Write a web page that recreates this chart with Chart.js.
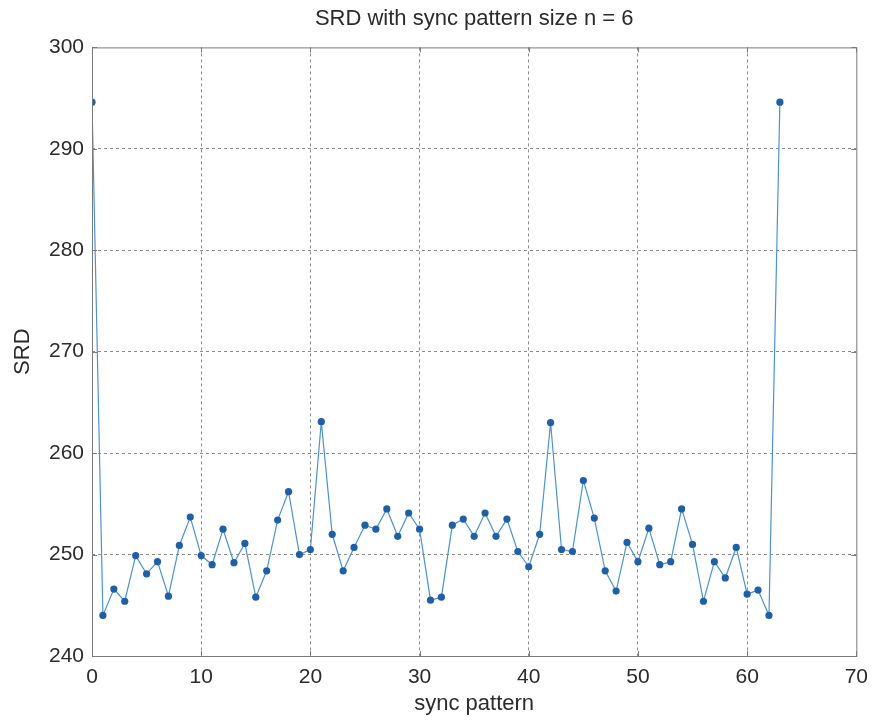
<!DOCTYPE html>
<html>
<head>
<meta charset="utf-8">
<title>SRD with sync pattern size n = 6</title>
<script src="https://cdn.jsdelivr.net/npm/chart.js@4.4.1/dist/chart.umd.min.js"></script>
<style>
  html, body { margin: 0; padding: 0; background: #ffffff; }
  #srd-chart { display: block; }
</style>
</head>
<body>
<canvas id="srd-chart" width="877" height="724"></canvas>
<script>
// sync pattern index (x) and the SRD measured for it (y)
const patterns = [
  0, 1, 2, 3, 4, 5, 6, 7, 8, 9,
  10, 11, 12, 13, 14, 15, 16, 17, 18, 19,
  20, 21, 22, 23, 24, 25, 26, 27, 28, 29,
  30, 31, 32, 33, 34, 35, 36, 37, 38, 39,
  40, 41, 42, 43, 44, 45, 46, 47, 48, 49,
  50, 51, 52, 53, 54, 55, 56, 57, 58, 59,
  60, 61, 62, 63
];
const srd = [
  294.6, 244.0, 246.6, 245.4, 249.9, 248.1, 249.3, 245.9, 250.9, 253.7,
  249.9, 249.0, 252.5, 249.2, 251.1, 245.8, 248.4, 253.4, 256.2, 250.0,
  250.5, 263.1, 252.0, 248.4, 250.7, 252.9, 252.5, 254.5, 251.8, 254.1,
  252.5, 245.5, 245.8, 252.9, 253.5, 251.8, 254.1, 251.8, 253.5, 250.3,
  248.8, 252.0, 263.0, 250.5, 250.3, 257.3, 253.6, 248.4, 246.4, 251.2,
  249.3, 252.6, 249.0, 249.3, 254.5, 251.0, 245.4, 249.3, 247.7, 250.7,
  246.1, 246.5, 244.0, 294.6
];
const xTicks = [0, 10, 20, 30, 40, 50, 60, 70];
const yTicks = [240, 250, 260, 270, 280, 290, 300];

const FONT = "'Liberation Sans', Arial, Helvetica, sans-serif";
const TEXT = "#2b2b2b";
const GRID = "#8c8c8c";
const FRAME = "#7a7a7a";

// hide the grid lines that sit on the frame, the frame is drawn solid below
function gridColor(ctx) {
  const s = ctx.scale;
  if (!ctx.tick) return GRID;
  if (ctx.tick.value === s.min || ctx.tick.value === s.max) return "rgba(0,0,0,0)";
  return GRID;
}

// solid box round the plot with short inward tick marks on all four sides
const boxFrame = {
  id: "boxFrame",
  afterDatasetsDraw(chart) {
    const { ctx, chartArea: a, scales } = chart;
    const len = 5;
    ctx.save();
    ctx.strokeStyle = FRAME;
    ctx.lineWidth = 1;
    ctx.strokeRect(a.left + 0.5, a.top + 0.5, a.right - a.left, a.bottom - a.top);
    ctx.beginPath();
    xTicks.forEach(v => {
      const px = Math.round(scales.x.getPixelForValue(v)) + 0.5;
      ctx.moveTo(px, a.bottom); ctx.lineTo(px, a.bottom - len);
      ctx.moveTo(px, a.top); ctx.lineTo(px, a.top + len);
    });
    yTicks.forEach(v => {
      const py = Math.round(scales.y.getPixelForValue(v)) + 0.5;
      ctx.moveTo(a.left, py); ctx.lineTo(a.left + len, py);
      ctx.moveTo(a.right, py); ctx.lineTo(a.right - len, py);
    });
    ctx.stroke();
    ctx.restore();
  }
};

new Chart(document.getElementById("srd-chart"), {
  type: "line",
  data: {
    datasets: [{
      label: "SRD",
      data: patterns.map((p, i) => ({ x: p, y: srd[i] })),
      borderColor: "#4a93cc",
      borderWidth: 1.2,
      backgroundColor: "#1f5fa6",
      pointBackgroundColor: "#1f5fa6",
      pointBorderColor: "#1f5fa6",
      pointRadius: 3.6,
      pointBorderWidth: 0,
      tension: 0,
      fill: false
    }]
  },
  options: {
    responsive: false,
    animation: false,
    devicePixelRatio: 1,
    layout: { padding: { top: 0, right: 18, bottom: 0, left: 0 } },
    plugins: {
      legend: { display: false },
      tooltip: { enabled: false },
      title: {
        display: true,
        fullSize: false,
        text: "SRD with sync pattern size n = 6",
        color: TEXT,
        font: { family: FONT, size: 22, weight: "normal" },
        padding: { top: 6, bottom: 15 }
      }
    },
    scales: {
      x: {
        type: "linear",
        min: 0,
        max: 70,
        afterBuildTicks(scale) { scale.ticks = xTicks.map(v => ({ value: v })); },
        afterFit(scale) { scale.height = 68; },
        ticks: { color: TEXT, font: { family: FONT, size: 21 }, padding: 9, maxRotation: 0 },
        grid: { color: gridColor, lineWidth: 1, drawTicks: false },
        border: { display: false, dash: [3, 3] },
        title: {
          display: true,
          text: "sync pattern",
          color: TEXT,
          font: { family: FONT, size: 22 },
          padding: { top: 0, bottom: 7 }
        }
      },
      y: {
        min: 240,
        max: 300,
        afterBuildTicks(scale) { scale.ticks = yTicks.map(v => ({ value: v })); },
        afterFit(scale) { scale.width = 92; },
        ticks: { color: TEXT, font: { family: FONT, size: 21 }, padding: 8 },
        grid: { color: gridColor, lineWidth: 1, drawTicks: false },
        border: { display: false, dash: [3, 3] },
        title: {
          display: true,
          text: "SRD",
          color: TEXT,
          font: { family: FONT, size: 22 },
          padding: { top: 10, bottom: 0 }
        }
      }
    }
  },
  plugins: [boxFrame]
});
</script>
</body>
</html>
